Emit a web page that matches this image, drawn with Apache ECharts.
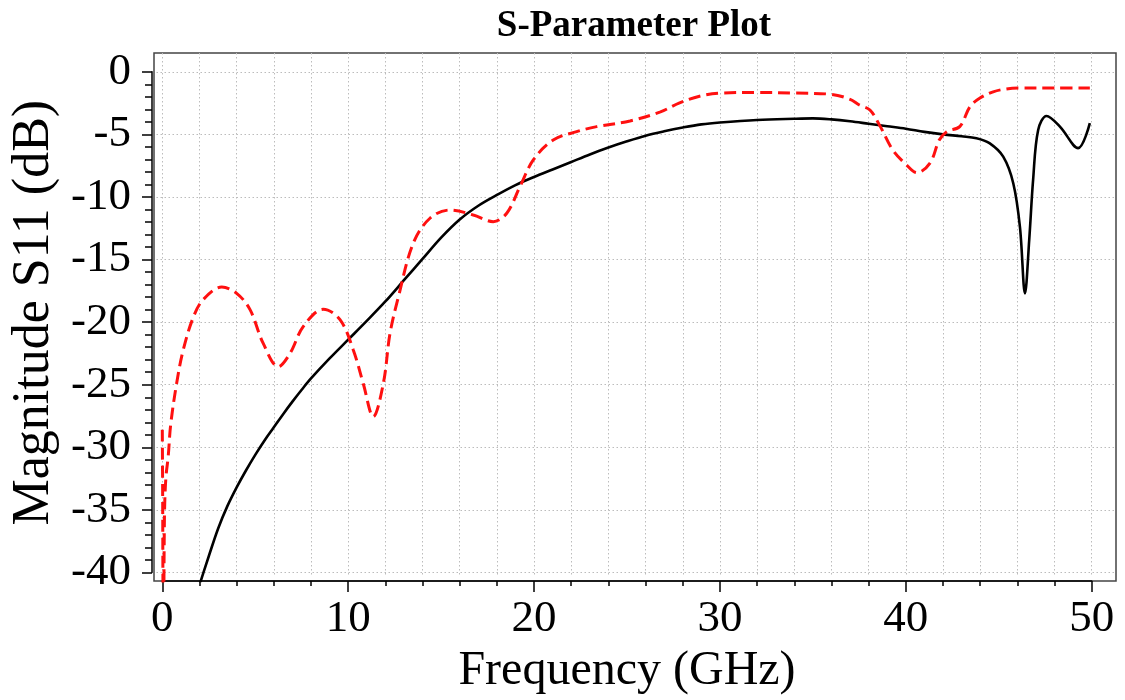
<!DOCTYPE html>
<html>
<head>
<meta charset="utf-8">
<script src="https://cdn.jsdelivr.net/npm/echarts@6/dist/echarts.min.js"></script>
<style>
  html, body { margin: 0; padding: 0; background: #fff; }
  #chart { width: 1125px; height: 700px; }
</style>
</head>
<body>
<div id="chart"></div>
<script>
// S11 of the reference design (solid black), frequency in GHz / magnitude in dB
const freqA = [1.8, 2, 2.5, 3, 3.5, 4, 4.5, 5, 5.5, 6, 6.5, 7, 7.5, 8, 9, 10, 11, 12, 13, 14, 15, 16, 17,
  18, 19, 20, 21, 22, 23, 24, 25, 26, 27, 28, 29, 30, 32, 34, 35, 36, 37, 38, 39, 40, 41, 42, 43,
  43.8, 44.5, 45.24, 45.78, 46.14, 46.41, 46.64, 46.85, 47.12, 47.57, 48.29, 49.27, 49.9];
const s11A = [-42.0, -41.0, -38.7, -36.5, -34.7, -33.2, -31.85, -30.6, -29.45, -28.4, -27.35, -26.35, -25.4, -24.5,
  -22.9, -21.4, -19.9, -18.35, -16.65, -14.95, -13.25, -11.8, -10.7, -9.84, -9.05, -8.4, -7.8, -7.2, -6.6,
  -6.05, -5.55, -5.1, -4.75, -4.45, -4.2, -4.05, -3.85, -3.75, -3.72, -3.8, -3.95, -4.15, -4.35, -4.55,
  -4.8, -5.0, -5.15, -5.3, -5.7, -6.78, -8.9, -12.4, -17.7, -13.4, -8.6, -4.65, -3.53, -4.38, -6.1, -4.1];

// S11 of the modified design (red dashed)
const freqB = [0, 0.02, 0.04, 0.07, 0.1, 0.13, 0.2, 0.32, 0.45, 0.77, 1.13, 1.67, 2.2, 3.2, 4.0, 4.72,
  5.43, 6.24, 6.87, 7.58, 8.66, 9.56, 10.27, 10.81, 11.35, 11.89, 12.25, 12.7, 13.5, 14.4, 15.48,
  16.73, 17.8, 18.53, 19.24, 19.96, 21.03, 22.29, 23.37, 25.16, 26.8, 27.8, 28.9, 30.0, 32.0, 34.0,
  36.0, 37.0, 37.5, 38.07, 38.6, 39.3, 40.04, 40.6, 41.3, 41.8, 42.2, 42.9, 43.45, 43.99, 44.7,
  45.4, 46.1, 48.0, 49.9];
const s11B = [-28.6, -34, -42, -44, -38, -34.5, -32.3, -30.7, -28.2, -24.9, -22.2, -19.6, -18.2, -17.2, -17.7, -19.0,
  -21.7, -23.55, -22.5, -20.36, -18.97, -19.8, -22.2, -24.9, -27.55, -24.9, -20.9, -18.0, -13.7, -11.7, -11.04,
  -11.44, -11.97, -11.3, -9.18, -7.04, -5.45, -4.78, -4.38, -3.93, -3.2, -2.5, -1.95, -1.7, -1.65, -1.7,
  -1.8, -2.2, -2.65, -3.05, -4.3, -6.25, -7.44, -8.06, -7.3, -5.45, -4.78, -4.38, -2.79, -2.1, -1.6,
  -1.37, -1.3, -1.3, -1.3];

// Axis ranges and tick spacing
const xRange = [0, 50];
const yRange = [-40, 0];
const xStep = 10;
const yStep = 5;

// Plot layout (pixels)
const BOX = { left: 154, top: 53, right: 1116, bottom: 581 };
const X0 = 162.3, X1 = 1091.7;   // pixel of 0 GHz and 50 GHz
const Y0 = 71.8, Y1 = 572.5;     // pixel of 0 dB and -40 dB

const pxPerX = (X1 - X0) / (xRange[1] - xRange[0]);
const pxPerY = (Y1 - Y0) / (yRange[1] - yRange[0]);
const boxXMin = xRange[0] - (X0 - BOX.left) / pxPerX;
const boxXMax = xRange[1] + (BOX.right - X1) / pxPerX;
const boxYMax = yRange[1] + (Y0 - BOX.top) / pxPerY;
const boxYMin = yRange[0] - (BOX.bottom - Y1) / pxPerY;

const FONT = '"Liberation Serif", "Times New Roman", serif';
const gridLine = { show: true, lineStyle: { color: '#bcbcbc', width: 1, type: [1.5, 2.5] } };

const zip = (xs, ys) => xs.map((x, i) => [x, ys[i]]);

const chart = echarts.init(document.getElementById('chart'), null, { renderer: 'canvas' });
chart.setOption({
  animation: false,
  backgroundColor: '#fff',
  title: {
    text: 'S-Parameter Plot',
    left: 634,
    textAlign: 'center',
    top: 8,
    padding: 0,
    textStyle: { fontFamily: FONT, fontWeight: 'bold', fontSize: 37, color: '#000' }
  },
  grid: [
    { // framed plotting area holding the curves
      left: BOX.left, top: BOX.top, width: BOX.right - BOX.left, height: BOX.bottom - BOX.top,
      show: true, borderColor: '#444', borderWidth: 1.5, backgroundColor: 'transparent'
    },
    { // frequency axis + vertical grid lines
      left: X0, top: BOX.top, width: X1 - X0, height: BOX.bottom - BOX.top
    },
    { // magnitude axis + horizontal grid lines
      left: BOX.left, top: Y0, width: BOX.right - BOX.left, height: Y1 - Y0
    }
  ],
  xAxis: [
    { gridIndex: 0, type: 'value', min: boxXMin, max: boxXMax, show: false },
    {
      gridIndex: 1, type: 'value', min: xRange[0], max: xRange[1], interval: xStep,
      position: 'bottom', offset: 5,
      axisLine: { show: true, onZero: false, lineStyle: { color: '#000', width: 1.5 } },
      axisTick: { show: true, length: 11, lineStyle: { color: '#000', width: 1.5 } },
      minorTick: { show: true, splitNumber: 5, length: 5, lineStyle: { color: '#000', width: 1.5 } },
      splitLine: gridLine,
      minorSplitLine: gridLine,
      axisLabel: { fontFamily: FONT, fontSize: 45, color: '#000', margin: 16 },
      name: 'Frequency (GHz)', nameLocation: 'middle', nameGap: 62,
      nameTextStyle: { fontFamily: FONT, fontSize: 48, color: '#000' }
    },
    { gridIndex: 2, type: 'value', min: 0, max: 1, show: false }
  ],
  yAxis: [
    { gridIndex: 0, type: 'value', min: boxYMin, max: boxYMax, show: false },
    { gridIndex: 1, type: 'value', min: 0, max: 1, show: false },
    {
      gridIndex: 2, type: 'value', min: yRange[0], max: yRange[1], interval: yStep,
      position: 'left', offset: 4.5,
      axisLine: { show: true, onZero: false, lineStyle: { color: '#000', width: 1.5 } },
      axisTick: { show: true, length: 10, lineStyle: { color: '#000', width: 1.5 } },
      minorTick: { show: true, splitNumber: 5, length: 7, lineStyle: { color: '#000', width: 1.5 } },
      splitLine: gridLine,
      axisLabel: { fontFamily: FONT, fontSize: 45, color: '#000', margin: 21 },
      name: 'Magnitude S11 (dB)', nameLocation: 'middle', nameRotate: 90, nameGap: 92,
      nameTextStyle: { fontFamily: FONT, fontSize: 52, color: '#000', padding: [0, 0, 0, 19] }
    }
  ],
  series: [
    {
      type: 'line', xAxisIndex: 0, yAxisIndex: 0, data: zip(freqA, s11A),
      showSymbol: false, smooth: 0.35, clip: true,
      lineStyle: { color: '#000', width: 2.6 }, z: 3
    },
    {
      type: 'line', xAxisIndex: 0, yAxisIndex: 0, data: zip(freqB, s11B),
      showSymbol: false, smooth: 0.35, clip: true,
      lineStyle: { color: '#ff1010', width: 3, type: [12, 6] }, z: 4
    }
  ]
});
</script>
</body>
</html>
